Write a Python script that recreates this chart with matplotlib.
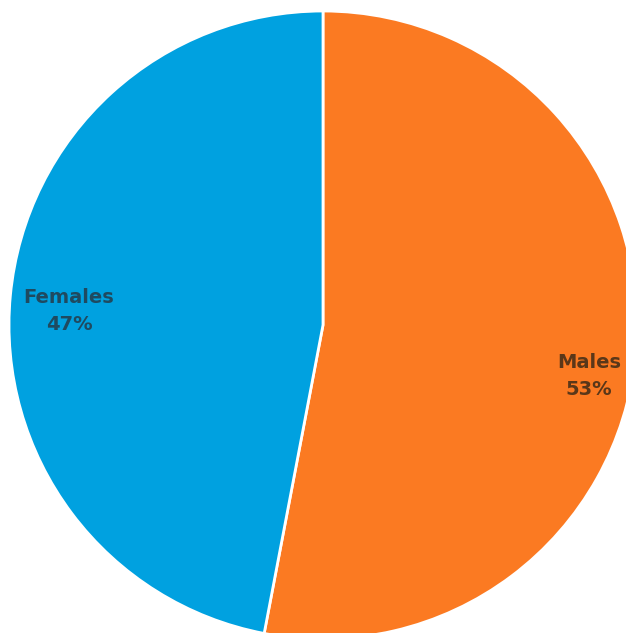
import numpy as np
import matplotlib.pyplot as plt

# Gender split
labels = ['Males', 'Females']
shares = [53, 47]
colors = ['#FB7A22', '#00A1E0']
text_colors = ['#5a3719', '#1f4a60']

# label placement: fraction of radius, angle shift (deg) from wedge middle
label_dist = [0.862, 0.81]
label_shift = [-5.5, 2.3]

W, H = 626, 633
fig = plt.figure(figsize=(W / 100, H / 100), dpi=100)
ax = fig.add_axes([0, 0, 1, 1])

center = (323, H - 325)
radius = 314

wedges, _ = ax.pie(shares, colors=colors, startangle=90, counterclock=False,
                   center=center, radius=radius,
                   wedgeprops=dict(edgecolor='white', linewidth=2))

for w, lab, val, d, s, tc in zip(wedges, labels, shares, label_dist, label_shift, text_colors):
    mid = np.deg2rad((w.theta1 + w.theta2) / 2 + s)
    x = center[0] + d * radius * np.cos(mid)
    y = center[1] + d * radius * np.sin(mid)
    ax.text(x, y, f'{lab}\n{val}%', ha='center', va='center', fontsize=14,
            fontweight='bold', color=tc, family='DejaVu Sans', linespacing=1.55)

ax.set_xlim(0, W)
ax.set_ylim(0, H)
ax.set_aspect('equal')
ax.axis('off')

fig.savefig('out.png', dpi=100)
